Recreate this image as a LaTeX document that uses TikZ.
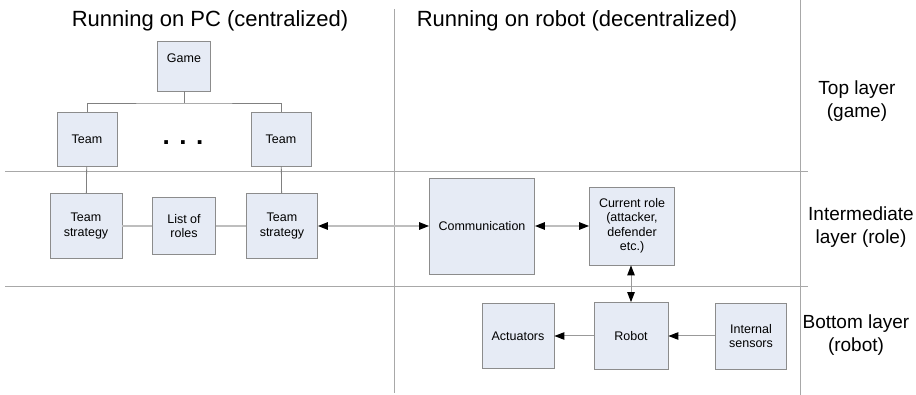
\documentclass[tikz,border=0pt]{standalone}
\usepackage{fontspec}
\setmainfont{Liberation Sans}
\usetikzlibrary{arrows.meta,positioning}
\definecolor{boxfill}{HTML}{E6EBF5}
\definecolor{boxline}{HTML}{8C8C8C}
\definecolor{rulegray}{HTML}{A8A8A8}
\definecolor{linkgray}{HTML}{BEBEBE}

\begin{document}
\begin{tikzpicture}[x=1pt,y=-1pt,>={Triangle[length=10pt,width=7.5pt,color=black]},
 box/.style={draw=boxline,fill=boxfill,line width=0.8pt,inner sep=0pt,align=center,font=\fontsize{12.5}{14.5}\selectfont},
 heading/.style={font=\fontsize{22}{26}\selectfont},
 layernote/.style={align=center,font=\fontsize{19}{23}\selectfont},
 tree/.style={draw=gray,line width=0.8pt},
 link/.style={draw=linkgray,line width=1.6pt},
 arrowline/.style={draw=gray!80,line width=1pt}]
\useasboundingbox (0,0) rectangle (916,395);
% layer grid
\draw[rulegray,line width=1pt] (394,9) -- (394,393);
\draw[rulegray,line width=1pt] (800,0) -- (800,395);
\draw[rulegray,line width=1pt] (5,172) -- (808,172);
\draw[rulegray,line width=1pt] (5,287) -- (808,287);
\node[heading] (pchead) at (210,21) {Running on PC (centralized)};
\node[heading] (robothead) at (577,21) {Running on robot (decentralized)};
\node[layernote] (toplayer) at (857,101) {Top layer\\(game)};
\node[layernote] (midlayer) at (861,227) {Intermediate\\layer (role)};
\node[layernote] (botlayer) at (856,335) {Bottom layer\\(robot)};
% PC side
\node[box,minimum width=53pt,minimum height=50pt,text depth=16pt] (game) at (184,66) {Game};
\node[box,minimum width=60pt,minimum height=54pt] (teamL) at (87,139) {Team};
\node[box,minimum width=60pt,minimum height=54pt] (teamR) at (281,139) {Team};
\node[font=\fontsize{26}{26}\bfseries] (dots) at (183,143) {. . .};
\node[box,minimum width=72pt,minimum height=65pt] (stratL) at (86,226) {Team\\strategy};
\node[box,minimum width=63pt,minimum height=57pt] (roles) at (184,226) {List of\\roles};
\node[box,minimum width=71pt,minimum height=65pt] (stratR) at (282,226) {Team\\strategy};
\coordinate (fork) at (184,103);
\draw[tree] (game.south) -- (fork);
\draw[tree] (teamL.north) |- (fork) -| (teamR.north);
\draw[tree] (teamL) -- (stratL);
\draw[tree] (teamR) -- (stratR);
\draw[link] (stratL) -- (roles);
\draw[link] (roles) -- (stratR);
% robot side
\node[box,minimum width=105pt,minimum height=96pt] (comm) at (482,226) {Communication};
\node[box,minimum width=85pt,minimum height=78pt] (role) at (632,226) {Current role\\(attacker,\\defender\\etc.)};
\node[box,minimum width=74pt,minimum height=67pt] (robot) at (631,336) {Robot};
\node[box,minimum width=72pt,minimum height=65pt] (act) at (518,336) {Actuators};
\node[box,minimum width=71pt,minimum height=66pt] (sens) at (751,336) {Internal\\sensors};
\draw[<->,arrowline,draw=linkgray,line width=1.4pt] (stratR) -- (comm);
\draw[<->,arrowline,draw=linkgray,line width=1.4pt] (comm) -- (role);
\draw[<->,arrowline] (role.south -| robot.north) -- (robot.north);
\draw[->,arrowline] (robot) -- (act);
\draw[->,arrowline] (sens) -- (robot);
\end{tikzpicture}
\end{document}
